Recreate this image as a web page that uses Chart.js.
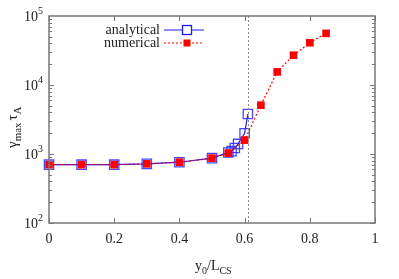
<!DOCTYPE html>
<html lang="en">
<head>
    <meta charset="UTF-8">
    <title>gamma max tau A vs y0/LCS</title>
    <script src="https://cdn.jsdelivr.net/npm/chart.js"></script>
    <style>
        body { margin: 0; background: #fff; }
    </style>
</head>
<body>

<div style="position: relative; width: 399px; height: 279px;">
    <canvas id="growthChart"></canvas>
</div>

<script>
    // 데이터
    const analyticalX = [0, 0.1, 0.2, 0.3, 0.4, 0.5, 0.55, 0.56, 0.57, 0.58, 0.6, 0.61];
    const analyticalY = [700, 700, 700, 720, 760, 870, 1050, 1100, 1220, 1400, 2000, 3800];
    const numericalX = [0, 0.1, 0.2, 0.3, 0.4, 0.5, 0.55, 0.6, 0.65, 0.7, 0.75, 0.8, 0.85];
    const numericalY = [700, 700, 700, 720, 760, 870, 1030, 1590, 5100, 15500, 27000, 41000, 56000];
    const xTicks = [0, 0.2, 0.4, 0.6, 0.8, 1];
    const yDecades = [2, 3, 4, 5];
    const criticalX = 0.612;

    const serif = '"Liberation Serif", "DejaVu Serif", serif';
    const axisGray = '#777';

    function toPoints(xs, ys) {
        return xs.map((x, i) => ({ x: x, y: ys[i] }));
    }

    // 축, 눈금, 라벨, 범례를 직접 그림
    const framePlugin = {
        id: 'frame',
        afterDatasetsDraw(chart) {
            const { ctx, chartArea, scales } = chart;
            const xs = scales.x, ys = scales.y;
            const { left, right, top, bottom } = chartArea;
            ctx.save();

            // 점선 수직선
            const cx = xs.getPixelForValue(criticalX);
            ctx.strokeStyle = '#888';
            ctx.lineWidth = 1;
            ctx.setLineDash([2, 2]);
            ctx.beginPath();
            ctx.moveTo(cx, top);
            ctx.lineTo(cx, bottom);
            ctx.stroke();
            ctx.setLineDash([]);

            // 테두리
            ctx.strokeStyle = axisGray;
            ctx.lineWidth = 1.5;
            ctx.strokeRect(left, top, right - left, bottom - top);

            // x 눈금 (위, 아래)
            ctx.lineWidth = 1;
            xTicks.forEach(v => {
                const px = Math.round(xs.getPixelForValue(v)) + 0.5;
                ctx.beginPath();
                ctx.moveTo(px, bottom); ctx.lineTo(px, bottom - 5);
                ctx.moveTo(px, top); ctx.lineTo(px, top + 5);
                ctx.stroke();
            });

            // y 눈금 (로그, 보조 눈금 포함)
            for (let d = 2; d < 5; d++) {
                for (let m = 1; m < 10; m++) {
                    const py = Math.round(ys.getPixelForValue(m * Math.pow(10, d))) + 0.5;
                    const len = m === 1 ? 5 : 3;
                    ctx.beginPath();
                    ctx.moveTo(left, py); ctx.lineTo(left + len, py);
                    ctx.moveTo(right, py); ctx.lineTo(right - len, py);
                    ctx.stroke();
                }
            }

            // y 라벨 10^n
            ctx.fillStyle = '#222';
            ctx.textBaseline = 'alphabetic';
            yDecades.forEach(d => {
                const py = ys.getPixelForValue(Math.pow(10, d));
                ctx.font = '14px ' + serif;
                ctx.textAlign = 'right';
                ctx.fillText('10', 38, py + 5);
                ctx.font = '10px ' + serif;
                ctx.textAlign = 'left';
                ctx.fillText(String(d), 38, py - 2);
            });

            // x 축 제목: y0/LCS
            ctx.textAlign = 'left';
            let x = 195;
            const by = 270;
            const parts = [['y', 14, 0], ['0', 10, 4], ['/L', 14, 0], ['CS', 10, 4]];
            parts.forEach(([t, s, off]) => {
                ctx.font = s + 'px ' + serif;
                ctx.fillText(t, x, by + off);
                x += ctx.measureText(t).width;
            });

            // y 축 제목: γmax τA
            ctx.save();
            ctx.translate(17, 148);
            ctx.rotate(-Math.PI / 2);
            x = 0;
            const yparts = [['\u03b3', 15, 0], ['max', 11, 4], ['\u03c4', 15, 0], ['A', 11, 4]];
            yparts.forEach(([t, s, off]) => {
                ctx.font = s + 'px ' + serif;
                ctx.fillText(t, x, off);
                x += ctx.measureText(t).width + (t === 'max' ? 2 : 0);
            });
            ctx.restore();

            // 범례
            const legendItems = [
                { label: 'analytical', y: 30, color: '#1a1aff', dash: [], filled: false, size: 9 },
                { label: 'numerical', y: 43, color: '#ff0000', dash: [2, 2], filled: true, size: 7 }
            ];
            legendItems.forEach(item => {
                ctx.font = '14px ' + serif;
                ctx.fillStyle = '#222';
                ctx.textAlign = 'right';
                ctx.textBaseline = 'middle';
                ctx.fillText(item.label, 160, item.y);
                ctx.strokeStyle = item.color;
                ctx.lineWidth = 1.2;
                ctx.setLineDash(item.dash);
                ctx.beginPath();
                ctx.moveTo(164, item.y); ctx.lineTo(204, item.y);
                ctx.stroke();
                ctx.setLineDash([]);
                const h = item.size / 2;
                if (item.filled) {
                    ctx.fillStyle = item.color;
                    ctx.fillRect(187 - h, item.y - h, item.size, item.size);
                } else {
                    ctx.fillStyle = '#fff';
                    ctx.fillRect(187 - h, item.y - h, item.size, item.size);
                    ctx.lineWidth = 1.3;
                    ctx.strokeRect(187 - h, item.y - h, item.size, item.size);
                }
            });

            ctx.restore();
        }
    };

    const ctx = document.getElementById('growthChart').getContext('2d');
    new Chart(ctx, {
        type: 'scatter',
        data: {
            datasets: [
                {
                    label: 'numerical',
                    data: toPoints(numericalX, numericalY),
                    showLine: true,
                    borderColor: '#ff0000',
                    borderWidth: 1.2,
                    borderDash: [2, 2],
                    pointStyle: 'rect',
                    pointRadius: 5.4,
                    pointBackgroundColor: '#ff0000',
                    pointBorderColor: '#ff0000',
                    pointBorderWidth: 0,
                    clip: false,
                    order: 0
                },
                {
                    label: 'analytical',
                    data: toPoints(analyticalX, analyticalY),
                    showLine: true,
                    borderColor: '#1a1aff',
                    borderWidth: 1.2,
                    pointStyle: 'rect',
                    pointRadius: 6.6,
                    pointBackgroundColor: 'rgba(255,255,255,0)',
                    pointBorderColor: 'rgba(40,40,255,0.85)',
                    pointBorderWidth: 1.3,
                    clip: false,
                    order: 1
                }
            ]
        },
        options: {
            responsive: true,
            maintainAspectRatio: false,
            animation: false,
            events: [],
            layout: { padding: { left: 0, right: 24, top: 16, bottom: 0 } },
            plugins: {
                legend: { display: false },
                tooltip: { enabled: false }
            },
            scales: {
                x: {
                    type: 'linear',
                    min: 0,
                    max: 1,
                    grid: { display: false, drawTicks: false },
                    border: { display: false },
                    afterBuildTicks: axis => { axis.ticks = xTicks.map(v => ({ value: v })); },
                    ticks: {
                        padding: 8,
                        color: '#222',
                        font: { family: serif, size: 14 },
                        maxRotation: 0,
                        callback: v => String(v)
                    },
                    afterFit: axis => { axis.height = 56; }
                },
                y: {
                    type: 'logarithmic',
                    min: 100,
                    max: 100000,
                    grid: { display: false, drawTicks: false },
                    border: { display: false },
                    ticks: { display: false },
                    afterFit: axis => { axis.width = 49; }
                }
            }
        },
        plugins: [framePlugin]
    });
</script>

</body>
</html>
